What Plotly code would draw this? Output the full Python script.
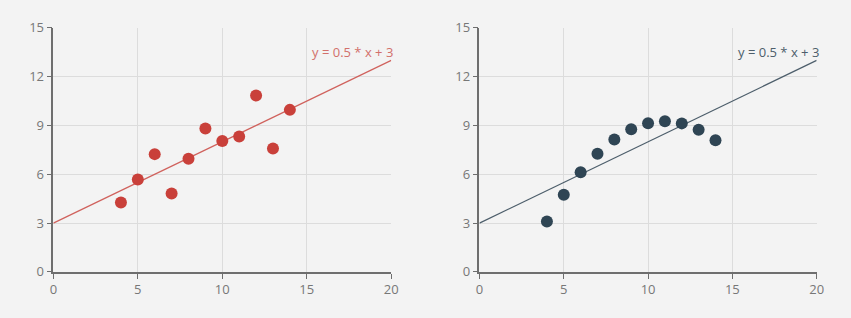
import plotly.graph_objects as go

x_vals = [10, 8, 13, 9, 11, 14, 6, 4, 12, 7, 5]
y_set1 = [8.04, 6.95, 7.58, 8.81, 8.33, 9.96, 7.24, 4.26, 10.84, 4.82, 5.68]
y_set2 = [9.14, 8.14, 8.74, 8.77, 9.26, 8.10, 6.13, 3.10, 9.13, 7.26, 4.74]
line_x = [0, 20]
line_y = [3, 13]
line_label = "y = 0.5 * x + 3"
x_ticks = [0, 5, 10, 15, 20]
y_ticks = [0, 3, 6, 9, 12, 15]

red = "#c9403a"
dark = "#2f4554"

fig = go.Figure()
panels = [("x", "y", y_set1, red, "#d0625d", "#d2706b"), ("x2", "y2", y_set2, dark, "#4d5e6b", "#4d5e6b")]
for xa, ya, ys, col, lcol, tcol in panels:
    fig.add_trace(go.Scatter(x=line_x, y=line_y, mode="lines", xaxis=xa, yaxis=ya,
                             line=dict(color=lcol, width=1.2), hoverinfo="skip", showlegend=False))
    fig.add_trace(go.Scatter(x=x_vals, y=ys, mode="markers", xaxis=xa, yaxis=ya,
                             marker=dict(color=col, size=12, line=dict(width=0)), showlegend=False))
    fig.add_annotation(x=line_x[1], y=line_y[1], xref=xa, yref=ya, text=line_label,
                       showarrow=False, xanchor="right", yanchor="bottom", xshift=4, yshift=-3,
                       font=dict(color=tcol, size=13, family="Open Sans, Noto Sans, sans-serif"))

axis_common = dict(range=[0, 20], tickvals=x_ticks, showgrid=True, gridcolor="#dcdcdc", gridwidth=1,
                   showline=True, linecolor="#6e6e6e", linewidth=1.5, ticks="outside", ticklen=5,
                   tickcolor="#6e6e6e", tickfont=dict(color="#777", size=13), zeroline=False, fixedrange=True)
yaxis_common = dict(range=[0, 15], tickvals=y_ticks, showgrid=True, gridcolor="#dcdcdc", gridwidth=1,
                    showline=True, linecolor="#6e6e6e", linewidth=1.5, ticks="outside", ticklen=5,
                    tickcolor="#6e6e6e", tickfont=dict(color="#777", size=13), zeroline=False, fixedrange=True)

fig.update_layout(
    width=851, height=318,
    margin=dict(l=0, r=0, t=0, b=0),
    paper_bgcolor="#f3f3f3", plot_bgcolor="#f3f3f3",
    font=dict(family="Open Sans, Noto Sans, sans-serif", color="#777"),
    xaxis=dict(domain=[50/851, 392.3/851], anchor="y", **axis_common),
    yaxis=dict(domain=[1-278.7/318, 1-20/318], anchor="x", **yaxis_common),
    xaxis2=dict(domain=[481.7/851, 823.3/851], anchor="y2", **axis_common),
    yaxis2=dict(domain=[1-278.7/318, 1-20/318], anchor="x2", **yaxis_common),
)

fig.write_html("out.html")
